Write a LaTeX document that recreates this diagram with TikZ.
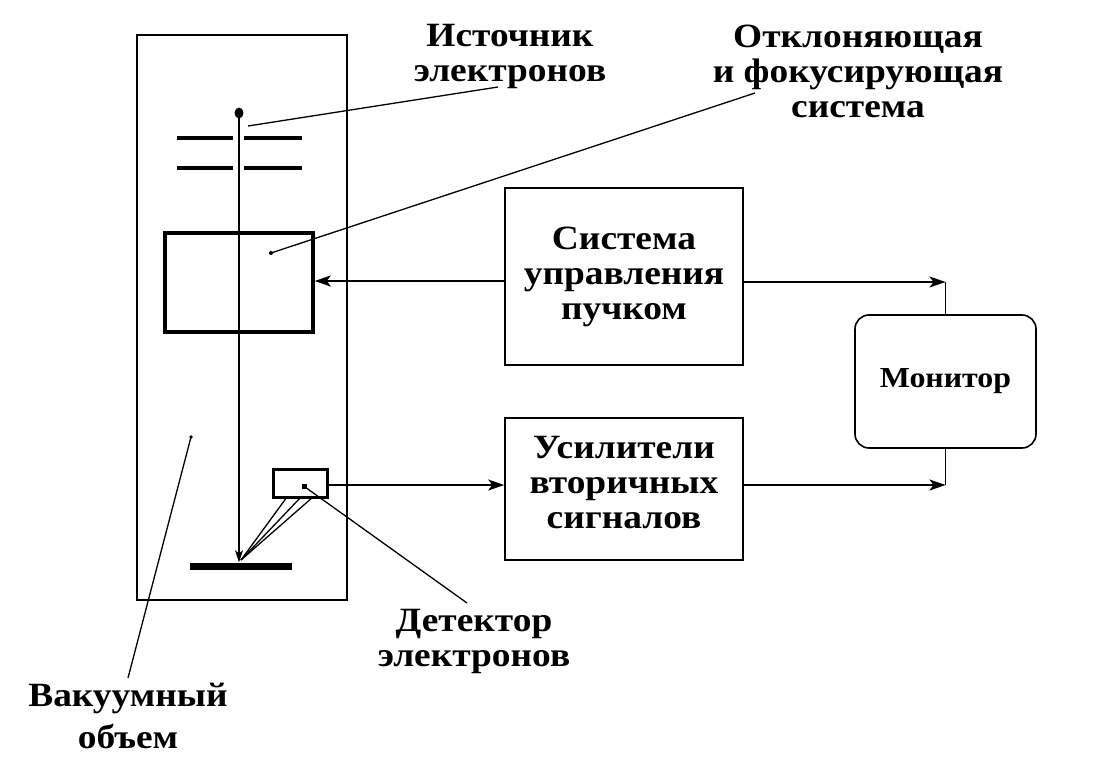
\documentclass[tikz,border=0pt]{standalone}
\usepackage{fontspec}
\setmainfont{Liberation Serif}[FakeStretch=1.1]
\usetikzlibrary{positioning, arrows.meta, calc}

\begin{document}
\begin{tikzpicture}[x=1pt, y=-1pt,
    blok/.style={draw, line width=1.6pt, inner sep=0pt},
    lab/.style={align=center, font=\fontsize{34}{35}\selectfont\bfseries, inner sep=0pt},
    leader/.style={line width=1.3pt},
    arr/.style={line width=1.6pt, -{Stealth[length=16pt, width=11pt, inset=4pt]}},
    plate/.style={line width=4pt}]
    \useasboundingbox (0,0) rectangle (1114,760);

    % Vakuumnyj ob'em
    \node[blok, minimum width=210pt, minimum height=565pt] (chamber) at (242,317.5) {};

    % Istochnik i plastiny
    \coordinate (src) at (239,113);
    \fill (src) ellipse [x radius=4.5pt, y radius=5.5pt];
    \draw[plate] (177,138) -- (233,138);
    \draw[plate] (244,138) -- (302,138);
    \draw[plate] (177,168) -- (233,168);
    \draw[plate] (244,168) -- (302,168);

    % Otklonjajushhaja sistema, mishen', detektor
    \node[blok, line width=3.5pt, minimum width=148pt, minimum height=99pt] (defl) at (239,282.5) {};
    \node[fill, minimum width=102pt, minimum height=7pt, inner sep=0pt] (target) at (241,566) {};
    \node[blok, line width=3pt, minimum width=54pt, minimum height=28pt] (det) at (300.5,483.5) {};
    \fill (302,484) rectangle +(5,5);
    \draw[arr, -{Stealth[length=12pt, width=8pt, inset=3pt]}] (src) -- (src |- target.north);

    % Otrazhennye elektrony
    \coordinate (hit) at (241,560);
    \foreach \xe in {287, 301, 313}
        \draw[leader] (hit) -- (\xe,497);

    % Bloki
    \node[blok, minimum width=238pt, minimum height=177pt] (ctrl) at (624,276.5) {};
    \node[lab] at (ctrl.center) {Система\\управления\\пучком};
    \node[blok, minimum width=238pt, minimum height=142pt] (amp) at (624,489) {};
    \node[lab] at ([yshift=6pt]amp.center) {Усилители\\вторичных\\сигналов};
    \node[blok, rounded corners=14pt, minimum width=181pt, minimum height=133pt] (mon) at (945.5,381.5) {};
    \node[lab, font=\fontsize{29}{33}\selectfont\bfseries] at (mon.center) {Монитор};

    % Strelki
    \draw[arr] (ctrl.west |- 0,281) -- (defl.east |- 0,281);
    \draw[arr] (ctrl.east |- 0,282) -- (mon.north |- 0,282);
    \draw[line width=1.6pt] (mon.north) -- (mon.north |- 0,282);
    \draw[arr] (amp.east |- 0,485) -- (mon.south |- 0,485);
    \draw[line width=1.6pt] (mon.south) -- (mon.south |- 0,485);
    \draw[arr] (det.east |- 0,485) -- (amp.west |- 0,485);

    % Podpisi
    \node[lab] (srclab) at (510,56) {Источник\\электронов};
    \node[lab] (defllab) at (858,71) {Отклоняющая\\и фокусирующая\\система};
    \node[lab] (detlab) at (474,641) {Детектор\\электронов};
    \node[lab, anchor=north, font=\fontsize{34}{42}\selectfont\bfseries] (vaclab) at (128,683) {Вакуумный\\объем};

    \draw[leader] (248,126) -- (498,87);
    \draw[leader] (271,253) -- (755,93);
    \fill (271,253) circle (2pt);
    \draw[leader] (305,487) -- (467,603);
    \fill (191,437) circle (1.8pt);
    \draw[leader] (191,437) -- (128,678);
\end{tikzpicture}
\end{document}
